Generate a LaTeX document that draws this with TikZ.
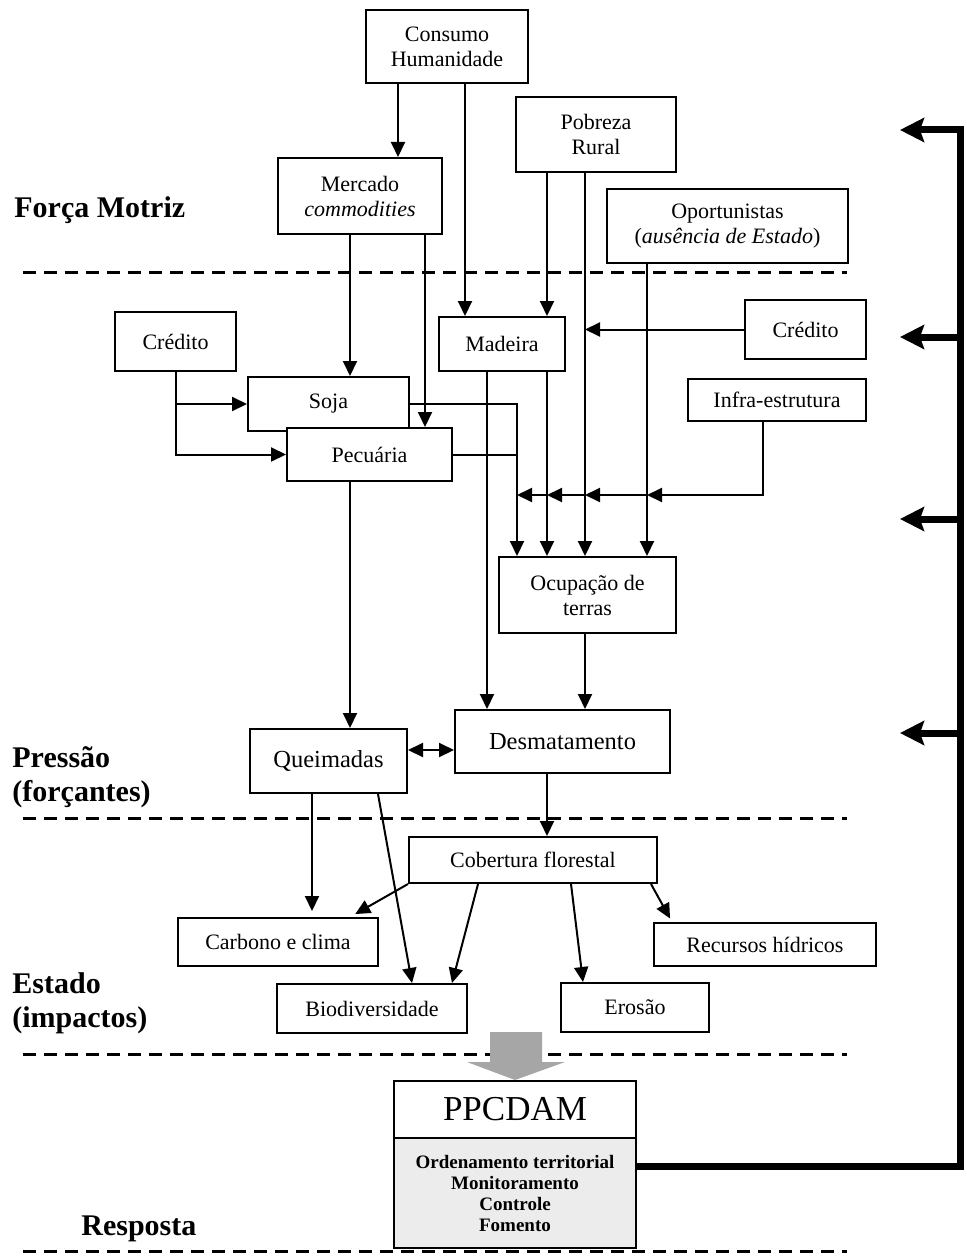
\documentclass[tikz,border=0pt]{standalone}
\usepackage{fontspec}
\setmainfont{Liberation Serif}
\usetikzlibrary{arrows.meta}

\tikzset{
  box/.style={draw,fill=white,line width=1pt,inner sep=1pt,align=center,
    font=\fontsize{11}{12.5}\selectfont},
  bigbox/.style={box,font=\fontsize{12.25}{14}\selectfont},
  sep/.style={dash pattern=on 6.5pt off 4pt,line width=1.5pt},
  lbl/.style={anchor=base west,inner sep=0pt,font=\fontsize{15}{17}\selectfont\bfseries},
  link/.style={->,line width=1pt},
  feed/.style={-{Stealth[length=12pt,width=12pt,inset=2pt]},line width=3.5pt},
  >={Triangle[length=7.5pt,width=7pt]}
}

\begin{document}
\begin{tikzpicture}[x=0.5pt,y=-0.5pt]
\useasboundingbox (0,0) rectangle (966,1257);

% layer labels and separators
\node[lbl] (fm)  at (14,218)  {Força Motriz};
\node[lbl] (pr)  at (12,767)  {Pressão};
\node[lbl] (prf) at (12,801)  {(forçantes)};
\node[lbl] (es)  at (12,993)  {Estado};
\node[lbl] (esi) at (12,1027) {(impactos)};
\node[lbl] (re)  at (81,1235) {Resposta};

\draw[sep] (23,272)  -- (847,272);
\draw[sep] (23,818)  -- (847,818);
\draw[sep] (23,1054) -- (847,1054);
\draw[sep] (23,1251) -- (847,1251);

% driving forces
\node[box,minimum width=81pt,minimum height=36.5pt] (cons) at (447,46.5) {Consumo\\Humanidade};
\node[box,minimum width=82pt,minimum height=38pt] (merc) at (360,196) {Mercado\\\textit{commodities}};
\node[box,minimum width=80pt,minimum height=37.5pt] (pobr) at (596,134.5) {Pobreza\\Rural};
\node[box,minimum width=120.5pt,minimum height=37pt] (opor) at (727.5,226) {Oportunistas\\(\textit{ausência de Estado})};

% intermediate
\node[box,minimum width=60.5pt,minimum height=29.5pt] (cred2) at (805.5,329.5) {Crédito};
\node[box,minimum width=63pt,minimum height=27pt] (made) at (502,344) {Madeira};
\node[box,minimum width=60.5pt,minimum height=29.5pt] (cred1) at (175.5,341.5) {Crédito};
\node[box,minimum width=80.5pt,minimum height=27pt] (soja) at (328.5,404) {Soja};
\node[box,minimum width=82.5pt,minimum height=26.5pt] (pecu) at (369.5,454.5) {Pecuária};
\node[box,minimum width=89pt,minimum height=21pt] (infr) at (777,400) {Infra-estrutura};
\node[box,minimum width=88.5pt,minimum height=38pt] (ocup) at (587.5,595) {Ocupação de\\terras};

% pressures
\node[bigbox,minimum width=107.5pt,minimum height=31.5pt] (desm) at (562.5,741.5) {Desmatamento};
\node[bigbox,minimum width=78.5pt,minimum height=32pt] (quei) at (328.5,761) {Queimadas};

% state
\node[box,minimum width=124pt,minimum height=23pt] (cobe) at (533,860) {Cobertura florestal};
\node[box,minimum width=100pt,minimum height=24pt] (carb) at (278,942) {Carbono e clima};
\node[box,minimum width=111pt,minimum height=21.5pt] (recu) at (765,944.5) {Recursos hídricos};
\node[box,minimum width=95pt,minimum height=24.5pt] (biod) at (372,1008.5) {Biodiversidade};
\node[box,minimum width=74pt,minimum height=24.5pt] (eros) at (635,1007.5) {Erosão};

% response
\node[box,minimum width=121pt,minimum height=28.5pt,font=\fontsize{17.5}{19}\selectfont] (ppct) at (515,1109.5) {PPCDAM};
\node[box,fill=gray!15,minimum width=121pt,minimum height=55pt,
      font=\fontsize{9.5}{10.5}\selectfont\bfseries] (ppcb) at (515,1193)
      {Ordenamento territorial\\Monitoramento\\Controle\\Fomento};

% vertical lanes
\coordinate (lcm) at (398,0);
\coordinate (lca) at (465,0);
\coordinate (lpm) at (547,0);
\coordinate (lpo) at (585,0);
\coordinate (lop) at (647,0);
\coordinate (lms) at (350,0);
\coordinate (lmp) at (425,0);
\coordinate (lso) at (517,0);
\coordinate (lmd) at (487,0);
\coordinate (lin) at (763,0);
\coordinate (lqc) at (312,0);
\coordinate (jin) at (0,495);

\draw[link] (cons.south -| lcm) -- (merc.north -| lcm);
\draw[link] (cons.south -| lca) -- (made.north -| lca);
\draw[link] (pobr.south -| lpm) -- (made.north -| lpm);
\draw[link] (pobr.south -| lpo) -- (ocup.north -| lpo);
\draw[link] (opor.south -| lop) -- (ocup.north -| lop);
\draw[link] (merc.south -| lms) -- (soja.north -| lms);
\draw[link] (merc.south -| lmp) -- (pecu.north -| lmp);
\draw[link] (cred2.west) -- (cred2.west -| lpo);
\draw[link] (cred1.south) |- (soja.west);
\draw[link] (cred1.south) |- (pecu.west);
\draw[link] (soja.east) -| (ocup.north -| lso);
\draw[line width=1pt] (pecu.east) -- (pecu.east -| lso);
\draw[link] (made.south -| lmd) -- (desm.north -| lmd);
\draw[link] (made.south -| lpm) -- (ocup.north -| lpm);

% infra-estrutura feeds every lane
\draw[link] (infr.south -| lin) |- (jin -| lop);
\draw[link] (jin -| lop) -- (jin -| lpo);
\draw[link] (jin -| lpo) -- (jin -| lpm);
\draw[link] (jin -| lpm) -- (jin -| lso);

\draw[link] (ocup.south -| lpo) -- (desm.north -| lpo);
\draw[link] (pecu.south -| lms) -- (quei.north -| lms);
\draw[<->,line width=1pt] ([yshift=5.5pt]quei.east) -- ([yshift=5.5pt]quei.east -| desm.west);
\draw[link] (desm.south -| lpm) -- (cobe.north -| lpm);

\draw[link,shorten >=3pt] (quei.south -| lqc) -- (carb.north -| lqc);
\draw[link] ([xshift=24.75pt]quei.south) -- ([xshift=20pt]biod.north);
\draw[link,shorten >=3pt] (cobe.south west) -- ([xshift=36pt]carb.north);
\draw[link] ([xshift=-27.5pt]cobe.south) -- ([xshift=40pt]biod.north);
\draw[link] ([xshift=19pt]cobe.south) -- ([xshift=-26pt]eros.north);
\draw[link,shorten >=2pt] ([xshift=59pt]cobe.south) -- ([xshift=-46.5pt]recu.north);

% block arrow down to the plan
\fill[gray!70] (490,1032) -- (542,1032) -- (542,1062) -- (565,1062)
  -- (ppct.north) -- (467,1062) -- (490,1062) -- cycle;

% feedback of the plan
\coordinate (fbot) at (960,1166);
\coordinate (ftop) at (960,130);
\coordinate (fb1) at (960,337);
\coordinate (fb2) at (960,519);
\coordinate (fb3) at (960,733);
\draw[feed] (ppcb.east |- fbot) -- (fbot) -- (ftop) -- +(-60,0);
\draw[feed] (fb1) -- +(-60,0);
\draw[feed] (fb2) -- +(-60,0);
\draw[feed] (fb3) -- +(-60,0);
\end{tikzpicture}
\end{document}
